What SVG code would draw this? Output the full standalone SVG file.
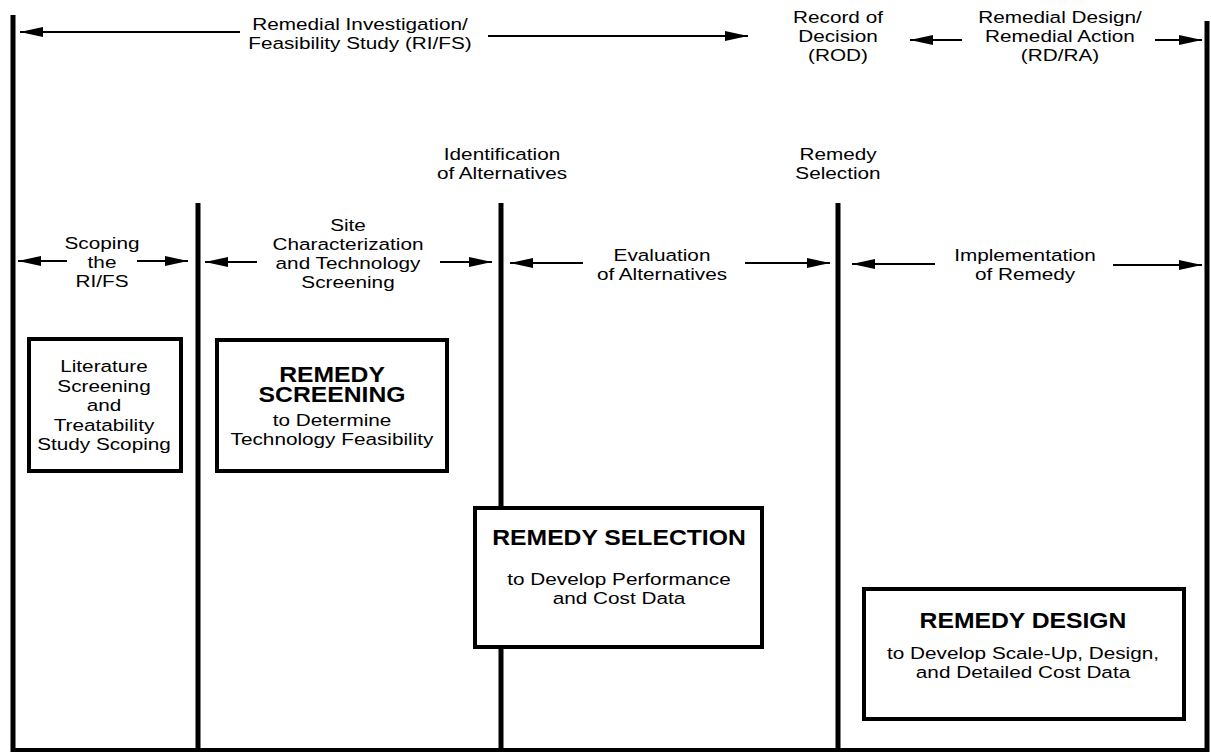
<svg xmlns="http://www.w3.org/2000/svg" width="1211" height="754" viewBox="0 0 1211 754">
<style>
text{font-family:"Liberation Sans",Arial,Helvetica,sans-serif;fill:#000;text-anchor:middle}
.r{font-size:17px}
.b{font-size:21.5px;font-weight:bold}
.bar{stroke:#000;stroke-width:5;fill:none}
.base{stroke:#000;stroke-width:4;fill:none}
.arr{stroke:#000;stroke-width:2;fill:none;marker-end:url(#ah)}
.box{fill:#fff;stroke:#000;stroke-width:4}
</style>
<defs>
<marker id="ah" markerUnits="userSpaceOnUse" markerWidth="23" markerHeight="10" refX="23" refY="5" orient="auto">
<path d="M0,0 L23,5 L0,10 z" fill="#000"/>
</marker>
</defs>
<rect width="1211" height="754" fill="#fff"/>

<g id="phase-lines">
<line class="bar" x1="13" y1="15" x2="13" y2="752"/>
<line class="bar" x1="198" y1="203" x2="198" y2="752"/>
<line class="bar" x1="501" y1="203" x2="501" y2="752"/>
<line class="bar" x1="838" y1="203" x2="838" y2="752"/>
<line class="bar" x1="1207" y1="21" x2="1207" y2="752"/>
<line class="base" x1="11" y1="750" x2="1209" y2="750"/>
</g>

<g id="connectors">
<line class="arr" x1="240" y1="32" x2="20" y2="32"/>
<line class="arr" x1="488" y1="36" x2="748" y2="36"/>
<line class="arr" x1="962" y1="40" x2="910" y2="40"/>
<line class="arr" x1="1155" y1="40" x2="1202" y2="40"/>
<line class="arr" x1="67" y1="261" x2="18" y2="261"/>
<line class="arr" x1="137" y1="261" x2="188" y2="261"/>
<line class="arr" x1="257" y1="262" x2="205" y2="262"/>
<line class="arr" x1="440" y1="262" x2="492" y2="262"/>
<line class="arr" x1="583" y1="263" x2="510" y2="263"/>
<line class="arr" x1="745" y1="263" x2="830" y2="263"/>
<line class="arr" x1="935" y1="264" x2="852" y2="264"/>
<line class="arr" x1="1113" y1="265" x2="1202" y2="265"/>
</g>

<g id="label-rifs">
<text class="r" transform="translate(360,0) scale(1.22,1)"><tspan x="0" y="30">Remedial Investigation/</tspan><tspan x="0" y="49">Feasibility Study (RI/FS)</tspan></text>
</g>
<g id="label-rod">
<text class="r" transform="translate(838,0) scale(1.22,1)"><tspan x="0" y="23">Record of</tspan><tspan x="0" y="42">Decision</tspan><tspan x="0" y="61">(ROD)</tspan></text>
</g>
<g id="label-rdra">
<text class="r" transform="translate(1060,0) scale(1.22,1)"><tspan x="0" y="23">Remedial Design/</tspan><tspan x="0" y="42">Remedial Action</tspan><tspan x="0" y="61">(RD/RA)</tspan></text>
</g>
<g id="label-identification">
<text class="r" transform="translate(502,0) scale(1.22,1)"><tspan x="0" y="160">Identification</tspan><tspan x="0" y="179">of Alternatives</tspan></text>
</g>
<g id="label-remedy-selection">
<text class="r" transform="translate(838,0) scale(1.22,1)"><tspan x="0" y="160">Remedy</tspan><tspan x="0" y="179">Selection</tspan></text>
</g>
<g id="label-scoping">
<text class="r" transform="translate(102,0) scale(1.22,1)"><tspan x="0" y="249">Scoping</tspan><tspan x="0" y="268">the</tspan><tspan x="0" y="287">RI/FS</tspan></text>
</g>
<g id="label-site">
<text class="r" transform="translate(348,0) scale(1.22,1)"><tspan x="0" y="231">Site</tspan><tspan x="0" y="250">Characterization</tspan><tspan x="0" y="269">and Technology</tspan><tspan x="0" y="288">Screening</tspan></text>
</g>
<g id="label-evaluation">
<text class="r" transform="translate(662,0) scale(1.22,1)"><tspan x="0" y="261">Evaluation</tspan><tspan x="0" y="280">of Alternatives</tspan></text>
</g>
<g id="label-implementation">
<text class="r" transform="translate(1025,0) scale(1.22,1)"><tspan x="0" y="261">Implementation</tspan><tspan x="0" y="280">of Remedy</tspan></text>
</g>

<g id="box-literature">
<rect class="box" x="29" y="339" width="152" height="132"/>
<text class="r" transform="translate(104,0) scale(1.22,1)"><tspan x="0" y="372">Literature</tspan><tspan x="0" y="392">Screening</tspan><tspan x="0" y="411">and</tspan><tspan x="0" y="431">Treatability</tspan><tspan x="0" y="450">Study Scoping</tspan></text>
</g>
<g id="box-remedy-screening">
<rect class="box" x="217" y="340" width="230" height="131"/>
<text class="b" transform="translate(332,0) scale(1.15,1)"><tspan x="0" y="382">REMEDY</tspan><tspan x="0" y="402">SCREENING</tspan></text>
<text class="r" transform="translate(332,0) scale(1.22,1)"><tspan x="0" y="426">to Determine</tspan><tspan x="0" y="445">Technology Feasibility</tspan></text>
</g>
<g id="box-remedy-selection">
<rect class="box" x="475" y="508" width="287" height="139"/>
<text class="b" transform="translate(619,0) scale(1.15,1)"><tspan x="0" y="545">REMEDY SELECTION</tspan></text>
<text class="r" transform="translate(619,0) scale(1.22,1)"><tspan x="0" y="585">to Develop Performance</tspan><tspan x="0" y="604">and Cost Data</tspan></text>
</g>
<g id="box-remedy-design">
<rect class="box" x="864" y="589" width="320" height="130"/>
<text class="b" transform="translate(1023,0) scale(1.15,1)"><tspan x="0" y="628">REMEDY DESIGN</tspan></text>
<text class="r" transform="translate(1023,0) scale(1.22,1)"><tspan x="0" y="659">to Develop Scale-Up, Design,</tspan><tspan x="0" y="678">and Detailed Cost Data</tspan></text>
</g>
</svg>
